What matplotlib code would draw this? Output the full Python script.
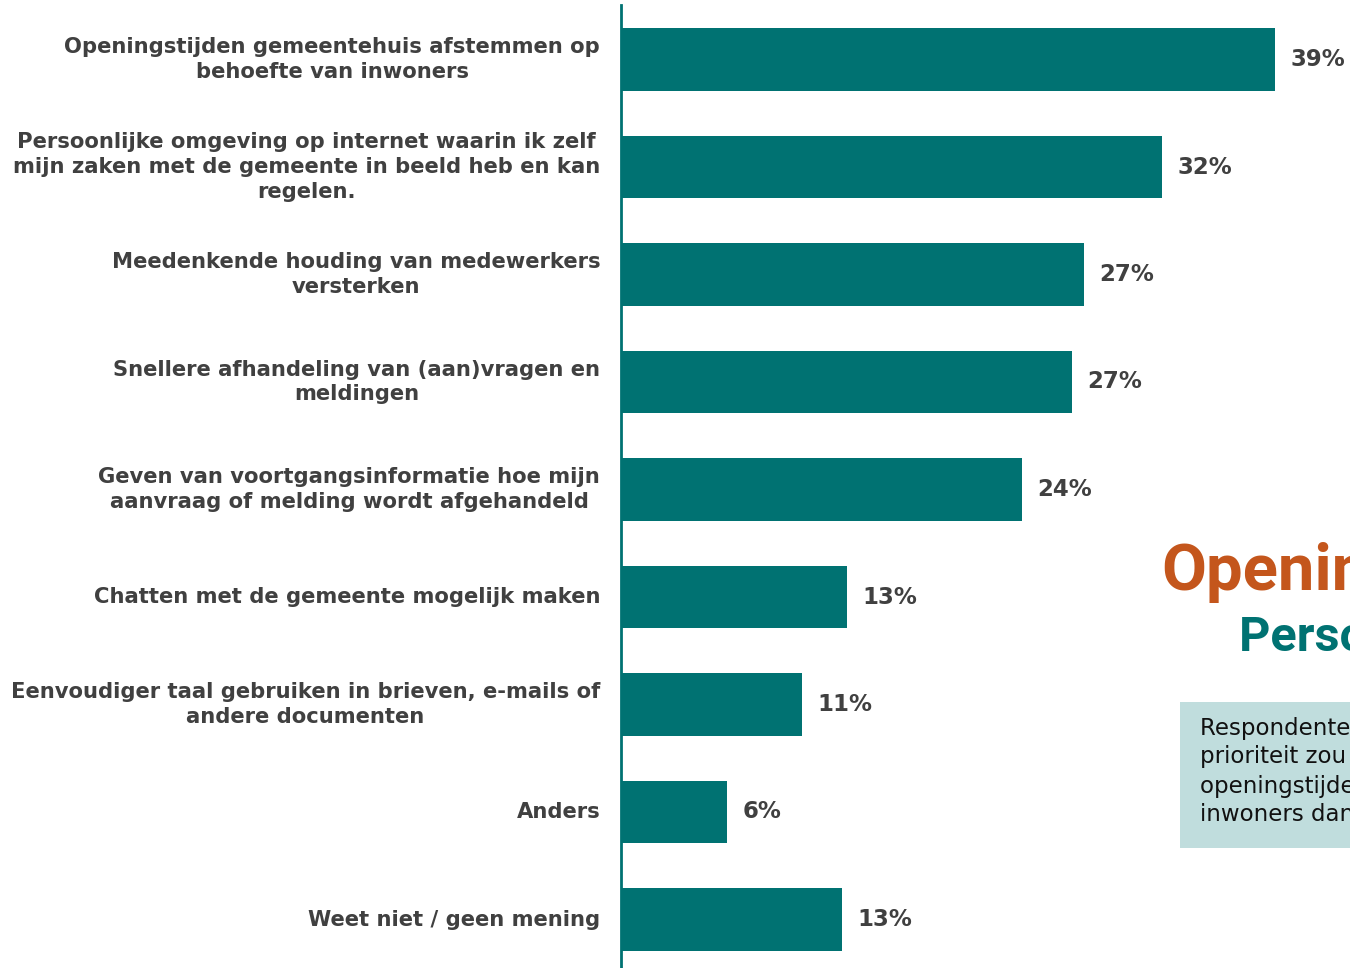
import matplotlib
matplotlib.use("Agg")
import matplotlib.pyplot as plt
from matplotlib.patches import Rectangle

categories = [
    "Openingstijden gemeentehuis afstemmen op\nbehoefte van inwoners",
    "Persoonlijke omgeving op internet waarin ik zelf\nmijn zaken met de gemeente in beeld heb en kan\nregelen.",
    "Meedenkende houding van medewerkers\nversterken",
    "Snellere afhandeling van (aan)vragen en\nmeldingen",
    "Geven van voortgangsinformatie hoe mijn\naanvraag of melding wordt afgehandeld",
    "Chatten met de gemeente mogelijk maken",
    "Eenvoudiger taal gebruiken in brieven, e-mails of\nandere documenten",
    "Anders",
    "Weet niet / geen mening",
]
values = [38.7, 32.0, 27.4, 26.7, 23.7, 13.4, 10.7, 6.3, 13.1]

title_text = "Openingstijden"
subtitle_text = "Persoonlijke omgeving"
note_lines = [
    "Respondenten geven aan dat de hoogste",
    "prioriteit zou moeten liggen bij het afstemmen van",
    "openingstijden van het gemeentehuis op de behoefte van",
    "inwoners dan bij andere verbeteringen.",
]

TEAL = "#007272"
TEXT = "#404040"
W, H = 1350, 968

fig = plt.figure(figsize=(W / 100, H / 100), dpi=100)
fig.patch.set_facecolor("white")

ax_left = 621 / W
ax = fig.add_axes([ax_left, 0, 1 - ax_left, (H - 5) / H])

ypos = list(range(len(categories)))
ax.barh(ypos, values, height=0.586, color=TEAL, zorder=2)

px_per_pct = 16.9
ax.set_xlim(0, (W - 621) / px_per_pct)
ax.set_ylim((H - 59.5) / 107.5, (5 - 59.5) / 107.5)

for s in ["top", "right", "bottom"]:
    ax.spines[s].set_visible(False)
ax.spines["left"].set_color(TEAL)
ax.spines["left"].set_linewidth(2)
ax.set_xticks([])
ax.set_yticks([])

for y, cat, v in zip(ypos, categories, values):
    ax.annotate(cat, xy=(0, y), xytext=(-15, 0), textcoords="offset points",
                ha="right", va="center", multialignment="center",
                fontsize=15.2, fontweight="bold", color=TEXT,
                family="DejaVu Sans", annotation_clip=False, linespacing=1.3)
    ax.annotate(f"{v:.0f}%", xy=(v, y), xytext=(11, 0), textcoords="offset points",
                ha="left", va="center", fontsize=16.5, fontweight="bold",
                color=TEXT, family="DejaVu Sans", annotation_clip=False)

# Highlight text block on the right
fig.text(1161 / W, 1 - 572 / H, title_text, fontsize=47, fontweight="bold",
         color="#C4561C", family="Roboto", ha="left", va="center")
fig.text(1239 / W, 1 - 638 / H, subtitle_text, fontsize=35, fontweight="bold",
         color=TEAL, family="Roboto", ha="left", va="center")

fig.patches.append(Rectangle((1180 / W, 1 - 848 / H), 400 / W, 146 / H,
                             transform=fig.transFigure, facecolor="#C0DDDD",
                             edgecolor="none", zorder=1))
for i, line in enumerate(note_lines):
    fig.text(1200 / W, 1 - (728 + 29 * i) / H, line, fontsize=16.5,
             color="#111111", family="DejaVu Sans", ha="left", va="center", zorder=3)

fig.savefig("out.png", dpi=100)
